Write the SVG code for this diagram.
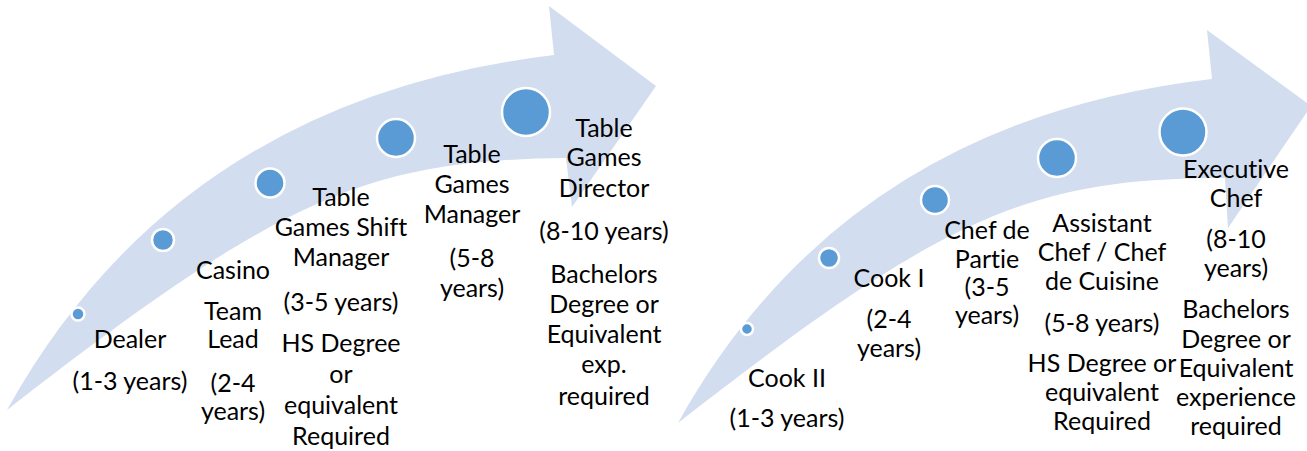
<svg xmlns="http://www.w3.org/2000/svg" width="1307" height="451" viewBox="0 0 1307 451">
<style>
.arrow{fill:#D2DDEF;stroke:none}
.dot{fill:#5B9BD5;stroke:#FFFFFF;stroke-width:2.5}
text{font-family:Lato,"Liberation Sans",sans-serif;font-size:25px;fill:#000000;text-anchor:middle;font-variant-ligatures:none}
</style>
<rect width="1307" height="451" fill="#FFFFFF"/>
<g id="connectors">
<path id="arrow-casino" class="arrow" d="M7,410 Q179,100 554,55 L549,6 L656,86 L572,207 L566,158 C366,160 278,199 7,410 Z"/>
<path id="arrow-kitchen" class="arrow" d="M678,423 Q846,121 1212,79 L1207,30 L1311,106 L1228,228 L1225,178 C1030,178 943,216 678,423 Z"/>
</g>
<g id="node-dealer">
<circle class="dot" cx="78" cy="314" r="6.5"/>
<text x="130" y="348">Dealer</text>
<text x="130" y="390">(1-3 years)</text>
</g>
<g id="node-casino-team-lead">
<circle class="dot" cx="163" cy="240" r="11"/>
<text x="233" y="279">Casino</text>
<text x="233" y="320">Team</text>
<text x="233" y="348">Lead</text>
<text x="233" y="392">(2-4</text>
<text x="233" y="420">years)</text>
</g>
<g id="node-shift-manager">
<circle class="dot" cx="270" cy="183" r="14.5"/>
<text x="341" y="206">Table</text>
<text x="341" y="236">Games Shift</text>
<text x="341" y="266">Manager</text>
<text x="341" y="311">(3-5 years)</text>
<text x="341" y="352">HS Degree</text>
<text x="341" y="383">or</text>
<text x="341" y="414">equivalent</text>
<text x="341" y="445">Required</text>
</g>
<g id="node-games-manager">
<circle class="dot" cx="396" cy="138" r="19"/>
<text x="472" y="163">Table</text>
<text x="472" y="193">Games</text>
<text x="472" y="223">Manager</text>
<text x="472" y="267">(5-8</text>
<text x="472" y="297">years)</text>
</g>
<g id="node-games-director">
<circle class="dot" cx="526" cy="112" r="24"/>
<text x="604" y="137">Table</text>
<text x="604" y="166">Games</text>
<text x="604" y="197">Director</text>
<text x="604" y="240">(8-10 years)</text>
<text x="604" y="283">Bachelors</text>
<text x="604" y="313">Degree or</text>
<text x="604" y="343">Equivalent</text>
<text x="604" y="373">exp.</text>
<text x="604" y="405">required</text>
</g>
<g id="node-cook-ii">
<circle class="dot" cx="747" cy="329" r="6"/>
<text x="787" y="387">Cook II</text>
<text x="787" y="427">(1-3 years)</text>
</g>
<g id="node-cook-i">
<circle class="dot" cx="829" cy="258" r="10"/>
<text x="889" y="287">Cook I</text>
<text x="889" y="328">(2-4</text>
<text x="889" y="357">years)</text>
</g>
<g id="node-chef-de-partie">
<circle class="dot" cx="935" cy="200" r="14"/>
<text x="987" y="239">Chef de</text>
<text x="987" y="268">Partie</text>
<text x="987" y="296">(3-5</text>
<text x="987" y="324">years)</text>
</g>
<g id="node-assistant-chef">
<circle class="dot" cx="1057" cy="158" r="19"/>
<text x="1102" y="232">Assistant</text>
<text x="1102" y="261">Chef / Chef</text>
<text x="1102" y="290">de Cuisine</text>
<text x="1102" y="332">(5-8 years)</text>
<text x="1102" y="372">HS Degree or</text>
<text x="1102" y="401">equivalent</text>
<text x="1102" y="430">Required</text>
</g>
<g id="node-executive-chef">
<circle class="dot" cx="1183" cy="132" r="23.5"/>
<text x="1236" y="178">Executive</text>
<text x="1236" y="207">Chef</text>
<text x="1236" y="248">(8-10</text>
<text x="1236" y="277">years)</text>
<text x="1236" y="318">Bachelors</text>
<text x="1236" y="348">Degree or</text>
<text x="1236" y="377">Equivalent</text>
<text x="1236" y="406">experience</text>
<text x="1236" y="435">required</text>
</g>
</svg>
